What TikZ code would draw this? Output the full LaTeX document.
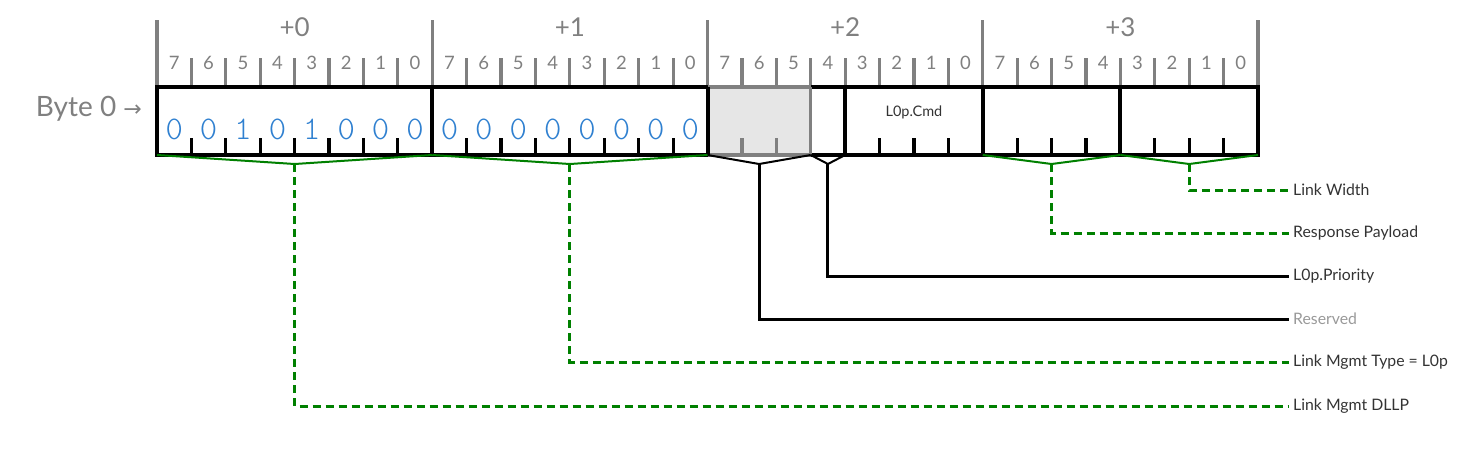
\documentclass[tikz,border=0pt]{standalone}
\usepackage{fontspec}
\setmainfont{Lato}
\newfontfamily\arrowfont{DejaVu Sans}
\newfontfamily\bitfont{lmmonolt10-regular.otf}
\usetikzlibrary{calc}
\definecolor{rulegray}{HTML}{808080}
\definecolor{resgray}{HTML}{E6E6E6}
\definecolor{bitblue}{HTML}{2F80D0}
\definecolor{fgreen}{HTML}{008000}
\definecolor{labtext}{HTML}{333333}
\definecolor{reslab}{HTML}{999999}
\tikzset{
  graytick/.style={draw=rulegray,line width=3.2pt},
  boxline/.style={draw=black,line width=4pt},
  bottick/.style={draw=black,line width=3.2pt},
  bytelab/.style={text=rulegray,font=\fontsize{26}{28}\selectfont,inner sep=0pt},
  bitnum/.style={text=rulegray,font=\fontsize{18.5}{20}\selectfont,inner sep=0pt},
  bitval/.style={text=bitblue,font=\bitfont\fontsize{33}{35}\selectfont,inner sep=0pt},
  lab/.style={anchor=west,inner xsep=4pt,inner ysep=0pt,text=labtext,font=\fontsize{15.8}{18}\selectfont},
  greenbrace/.style={draw=fgreen,line width=2pt},
  greenlead/.style={draw=fgreen,line width=3pt,dash pattern=on 8pt off 5pt},
  blackbrace/.style={draw=black,line width=2pt},
  blacklead/.style={draw=black,line width=3pt},
}
\begin{document}
\begin{tikzpicture}[x=1pt,y=-1pt]
\useasboundingbox (0,0) rectangle (1466,448);
% reserved fill
\fill[resgray] (157+16*34.406,87) rectangle (157+19*34.406,155);
% top ruler
\foreach \k in {0,...,32}{
  \pgfmathsetmacro\xx{157+\k*34.406}
  \pgfmathtruncatemacro\m{mod(\k,8)}
  \coordinate (t\k) at (\xx,87);
  \coordinate (b\k) at (\xx,155);
  \ifnum\m=0
    \draw[graytick] (\xx,20) -- (t\k);
  \else
    \draw[graytick] (\xx,58) -- (t\k);
  \fi
}
\foreach \k in {0,...,31}{
  \pgfmathsetmacro\xx{157+(\k+0.5)*34.406}
  \pgfmathtruncatemacro\n{7-mod(\k,8)}
  \node[bitnum] (bn\k) at (\xx,63) {\n};
}
\foreach \B in {0,...,3}{
  \pgfmathsetmacro\xx{157+(\B*8+4)*34.406}
  \node[bytelab] (by\B) at (\xx,27) {+\B};
}
% box
\draw[boxline] (t0) rectangle (b32);
\draw[draw=rulegray,line width=4pt] (t16) -- (t19) (b16) -- (b19);
\draw[draw=rulegray,line width=3.2pt] (t19) -- (b19);
\foreach \k in {8,16,20,24,28}{
  \draw[boxline] (t\k) -- (b\k);
}
% bottom ticks
\foreach \k in {1,...,7,9,10,...,15,21,22,23,25,26,27,29,30,31}{
  \pgfmathsetmacro\xx{157+\k*34.406}
  \draw[bottick] (\xx,138) -- (b\k);
}
\foreach \k in {17,18}{
  \pgfmathsetmacro\xx{157+\k*34.406}
  \draw[draw=rulegray,line width=3.2pt] (\xx,138) -- (b\k);
}
% bit values
\foreach \v [count=\i from 0] in {0,0,1,0,1,0,0,0,0,0,0,0,0,0,0,0}{
  \pgfmathsetmacro\xx{157+(\i+0.5)*34.406}
  \node[bitval] (bv\i) at (\xx,129) {\v};
}
\node[inner sep=0pt,text=labtext,font=\fontsize{14.5}{16}\selectfont] (cmd) at ($(t20)!0.5!(t24)+(0,25)$) {L0p.Cmd};
% byte 0 label
\node[anchor=east,inner sep=0pt,text=rulegray,font=\fontsize{28}{30}\selectfont] (byte0) at (142,109) {Byte 0 {\arrowfont\fontsize{22}{24}\selectfont →}};
% labels
\node[lab] (lLW) at (1289,190) {Link Width};
\node[lab] (lRP) at (1289,233) {Response Payload};
\node[lab] (lPR) at (1289,276) {L0p.Priority};
\node[lab,text=reslab] (lRS) at (1289,319) {Reserved};
\node[lab] (lLT) at (1289,362) {Link Mgmt Type = L0p};
\node[lab] (lDL) at (1289,406) {Link Mgmt DLLP};
% braces and leaders
\coordinate (cLW) at ($(b28)!0.5!(b32)+(0,9)$);
\coordinate (cRP) at ($(b24)!0.5!(b28)+(0,9)$);
\coordinate (cPR) at ($(b19)!0.5!(b20)+(0,9)$);
\coordinate (cRS) at ($(b16)!0.5!(b19)+(0,9)$);
\coordinate (cLT) at ($(b8)!0.5!(b16)+(0,9)$);
\coordinate (cDL) at ($(b0)!0.5!(b8)+(0,9)$);
\draw[greenbrace] (b28) -- (cLW) -- (b32);
\draw[greenbrace] (b24) -- (cRP) -- (b28);
\draw[blackbrace] (b19) -- (cPR) -- (b20);
\draw[blackbrace] (b16) -- (cRS) -- (b19);
\draw[greenbrace] (b8) -- (cLT) -- (b16);
\draw[greenbrace] (b0) -- (cDL) -- (b8);
\draw[greenlead] (cLW) |- (lLW.west);
\draw[greenlead] (cRP) |- (lRP.west);
\draw[blacklead] (cPR) |- (lPR.west);
\draw[blacklead] (cRS) |- (lRS.west);
\draw[greenlead] (cLT) |- (lLT.west);
\draw[greenlead] (cDL) |- (lDL.west);
\end{tikzpicture}
\end{document}
